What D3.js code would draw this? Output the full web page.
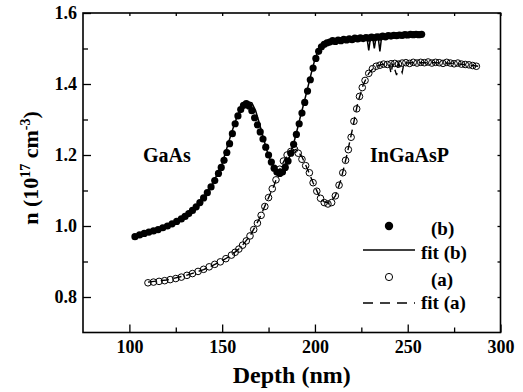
<!DOCTYPE html>
<html>
<head>
<meta charset="utf-8">
<script src="https://cdn.jsdelivr.net/npm/d3@7"></script>
<style>
  body { margin: 0; background: #fff; }
  svg { display: block; }
  text { font-family: "Liberation Serif", "Times New Roman", serif; font-weight: bold; fill: #000; }
</style>
</head>
<body>
<svg id="chart" width="523" height="392"></svg>
<script>
// measured data, (b) filled circles
const depthB = [103, 105.5, 108, 110.5, 113, 115.5, 118, 120.5, 123, 125.5, 128, 130, 132, 134, 136, 138, 140, 142, 144, 146,
  148, 149.5, 151, 152.5, 154, 155.5, 157, 158.5, 160, 161.5, 163, 164.5, 166, 167.5, 169, 170.5, 172, 173.5, 175, 176.5,
  178, 179.5, 181, 182.5, 184, 185.5, 187, 188.5, 190, 191.5, 193, 194.5, 196, 197.5, 199, 200.5, 202, 203.5, 205, 206.5,
  208, 209.5, 211, 212.5, 214, 215.5, 217, 218.5, 220, 221.5, 223, 224.5, 226, 227.5, 229, 230.5, 232, 233.5, 235, 236.5,
  238, 239.5, 241, 242.5, 244, 245.5, 247, 248.5, 250, 251.5, 253, 254.5, 256, 257.5]
const nB = [0.970, 0.975, 0.979, 0.983, 0.986, 0.990, 0.995, 1.000, 1.006, 1.013, 1.020, 1.027, 1.035, 1.044, 1.054, 1.066, 1.079, 1.094, 1.110, 1.128,
  1.148, 1.165, 1.185, 1.207, 1.232, 1.260, 1.288, 1.310, 1.328, 1.340, 1.345, 1.338, 1.325, 1.305, 1.285, 1.265, 1.245, 1.222, 1.200, 1.180,
  1.163, 1.152, 1.148, 1.152, 1.165, 1.183, 1.205, 1.230, 1.258, 1.288, 1.318, 1.348, 1.380, 1.412, 1.445, 1.472, 1.492, 1.505, 1.512, 1.516,
  1.518, 1.522, 1.520, 1.524, 1.522, 1.526, 1.524, 1.527, 1.525, 1.529, 1.527, 1.530, 1.528, 1.531, 1.529, 1.532, 1.530, 1.533, 1.532, 1.535,
  1.533, 1.536, 1.535, 1.537, 1.536, 1.538, 1.537, 1.539, 1.538, 1.540, 1.539, 1.540, 1.539, 1.540]

// fit (b)
const fitDepthB = [105, 110, 115, 120, 125, 130, 135, 140, 145, 150, 155, 158, 160, 162, 164, 166, 168, 170, 172, 174,
  176, 178, 180, 182, 184, 186, 188, 190, 192, 194, 196, 198, 200, 202, 204, 206, 210, 215, 220, 225,
  228, 229, 230, 231, 232, 233, 234, 235, 236, 240, 245, 250, 255, 258]
const fitNB = [0.975, 0.983, 0.990, 1.000, 1.012, 1.027, 1.048, 1.078, 1.120, 1.176, 1.262, 1.308, 1.330, 1.345, 1.350, 1.347, 1.325, 1.290, 1.252, 1.214,
  1.185, 1.162, 1.148, 1.146, 1.162, 1.190, 1.222, 1.262, 1.305, 1.345, 1.387, 1.430, 1.470, 1.497, 1.510, 1.518, 1.522, 1.526, 1.530, 1.532,
  1.532, 1.495, 1.533, 1.534, 1.500, 1.534, 1.535, 1.492, 1.536, 1.537, 1.538, 1.540, 1.541, 1.541]

// measured data, (a) open circles
const depthA = [110, 113, 116, 119, 122, 125, 128, 131, 134, 137, 140, 143, 146, 149, 152, 155, 157, 159, 161, 163,
  165, 167, 169, 171, 173, 175, 177, 179, 181, 183, 185, 187, 189, 191, 193, 195, 197, 199, 201, 203,
  205, 207, 209, 211, 213, 215, 216.5, 218, 219.5, 221, 222.5, 224, 225.5, 227, 229, 231, 233, 235, 237, 239,
  241, 243, 245, 247, 249, 251, 253, 255, 257, 259, 261, 263, 265, 267, 269, 271, 273, 275, 277, 279,
  281, 283, 285, 287]
const nA = [0.840, 0.842, 0.844, 0.846, 0.849, 0.852, 0.856, 0.861, 0.866, 0.872, 0.878, 0.885, 0.892, 0.899, 0.908, 0.918, 0.926, 0.935, 0.946, 0.958,
  0.972, 0.990, 1.008, 1.030, 1.055, 1.080, 1.105, 1.130, 1.160, 1.183, 1.200, 1.210, 1.216, 1.205, 1.188, 1.170, 1.150, 1.122, 1.098, 1.078,
  1.066, 1.062, 1.066, 1.085, 1.115, 1.150, 1.185, 1.215, 1.250, 1.295, 1.330, 1.365, 1.390, 1.410, 1.430, 1.443, 1.450, 1.453, 1.456, 1.455,
  1.457, 1.458, 1.456, 1.459, 1.460, 1.458, 1.461, 1.459, 1.461, 1.460, 1.462, 1.459, 1.461, 1.460, 1.458, 1.461, 1.459, 1.457, 1.459, 1.456,
  1.455, 1.454, 1.452, 1.450]

// fit (a)
const fitDepthA = [110, 120, 130, 140, 145, 150, 155, 160, 165, 170, 175, 178, 181, 184, 187, 190, 193, 196, 199, 202,
  205, 208, 211, 214, 217, 220, 223, 226, 229, 232, 236, 240, 241, 242, 244, 245, 247, 248, 255, 265,
  275, 285, 288]
const fitNA = [0.842, 0.848, 0.860, 0.877, 0.889, 0.902, 0.918, 0.940, 0.972, 1.020, 1.080, 1.115, 1.160, 1.190, 1.210, 1.216, 1.195, 1.160, 1.122, 1.088,
  1.068, 1.064, 1.085, 1.130, 1.195, 1.268, 1.345, 1.398, 1.430, 1.447, 1.455, 1.457, 1.430, 1.458, 1.425, 1.458, 1.432, 1.459, 1.460, 1.460,
  1.458, 1.452, 1.450]

const xTicks = [100, 150, 200, 250, 300]
const xMinor = [125, 175, 225, 275]
const yTicks = [0.8, 1.0, 1.2, 1.4, 1.6]
const yMinor = [0.9, 1.1, 1.3, 1.5]

const legendItems = [
  { label: '(b)', kind: 'dot' },
  { label: 'fit (b)', kind: 'line' },
  { label: '(a)', kind: 'circle' },
  { label: 'fit (a)', kind: 'dash' }
]

const svg = d3.select('#chart')
const m = { left: 83, right: 500.5, top: 13, bottom: 332.5 }

const x = d3.scaleLinear().domain([75, 300]).range([m.left, m.right])
const y = d3.scaleLinear().domain([0.7, 1.6]).range([m.bottom, m.top])

// frame
svg.append('rect')
  .attr('x', m.left).attr('y', m.top)
  .attr('width', m.right - m.left).attr('height', m.bottom - m.top)
  .attr('fill', 'none').attr('stroke', '#000').attr('stroke-width', 1.6)

function styleAxis(g) {
  g.select('.domain').remove()
  g.selectAll('line').attr('stroke', '#000').attr('stroke-width', 1.3)
  g.selectAll('text').style('font-size', '18px').style('font-family', '"Liberation Serif", serif').style('font-weight', 'bold')
}

// bottom axis
svg.append('g').attr('transform', `translate(0,${m.bottom})`)
  .call(d3.axisBottom(x).tickValues(xTicks).tickSize(-8).tickPadding(8).tickFormat(d3.format('d')))
  .call(styleAxis)
svg.append('g').attr('transform', `translate(0,${m.bottom})`)
  .call(d3.axisBottom(x).tickValues(xMinor).tickSize(-5).tickFormat(''))
  .call(styleAxis)
// top axis
svg.append('g').attr('transform', `translate(0,${m.top})`)
  .call(d3.axisTop(x).tickValues(xTicks.concat(xMinor)).tickSize(-3).tickFormat(''))
  .call(styleAxis)

// left axis
svg.append('g').attr('transform', `translate(${m.left},0)`)
  .call(d3.axisLeft(y).tickValues(yTicks).tickSize(-8).tickPadding(6).tickFormat(d3.format('.1f')))
  .call(styleAxis)
svg.append('g').attr('transform', `translate(${m.left},0)`)
  .call(d3.axisLeft(y).tickValues(yMinor).tickSize(-5).tickFormat(''))
  .call(styleAxis)
// right axis
svg.append('g').attr('transform', `translate(${m.right},0)`)
  .call(d3.axisRight(y).tickValues(yTicks.concat(yMinor)).tickSize(-3).tickFormat(''))
  .call(styleAxis)

// axis titles
svg.append('text')
  .attr('x', (m.left + m.right) / 2).attr('y', 383)
  .attr('text-anchor', 'middle')
  .style('font-size', '24px')
  .text('Depth (nm)')

const yTitle = svg.append('text')
  .attr('transform', 'translate(38,168) rotate(-90)')
  .attr('text-anchor', 'middle')
  .style('font-size', '22px')
yTitle.append('tspan').text('n (10')
yTitle.append('tspan').attr('dy', -8).style('font-size', '14px').text('17')
yTitle.append('tspan').attr('dy', 8).text(' cm')
yTitle.append('tspan').attr('dy', -8).style('font-size', '14px').text('-3')
yTitle.append('tspan').attr('dy', 8).text(')')

// series
const line = d3.line().x(d => x(d[0])).y(d => y(d[1]))
const fitA = d3.zip(fitDepthA, fitNA)
const fitB = d3.zip(fitDepthB, fitNB)
const ptsA = d3.zip(depthA, nA)
const ptsB = d3.zip(depthB, nB)

svg.append('path').datum(fitA)
  .attr('d', line).attr('fill', 'none')
  .attr('stroke', '#000').attr('stroke-width', 1.4).attr('stroke-dasharray', '8,5')

svg.append('g').selectAll('circle').data(ptsA).enter().append('circle')
  .attr('cx', d => x(d[0])).attr('cy', d => y(d[1])).attr('r', 3.3)
  .attr('fill', 'none').attr('stroke', '#000').attr('stroke-width', 1)

svg.append('g').selectAll('circle').data(ptsB).enter().append('circle')
  .attr('cx', d => x(d[0])).attr('cy', d => y(d[1])).attr('r', 3.6)
  .attr('fill', '#000')

svg.append('path').datum(fitB)
  .attr('d', line).attr('fill', 'none')
  .attr('stroke', '#000').attr('stroke-width', 1.5)

// region labels
svg.append('text').attr('x', 143).attr('y', 161.5).style('font-size', '20px').text('GaAs')
svg.append('text').attr('x', 370).attr('y', 161.5).style('font-size', '20px').text('InGaAsP')

// legend
const rowY = [226, 250, 277, 303]
const textY = [235, 259, 286, 309]
const lg = svg.append('g')
legendItems.forEach((it, i) => {
  if (it.kind === 'dot') {
    lg.append('circle').attr('cx', 389).attr('cy', rowY[i]).attr('r', 4.2).attr('fill', '#000')
  } else if (it.kind === 'circle') {
    lg.append('circle').attr('cx', 389).attr('cy', rowY[i]).attr('r', 3.6)
      .attr('fill', 'none').attr('stroke', '#000').attr('stroke-width', 1)
  } else {
    lg.append('line').attr('x1', 363).attr('x2', 415).attr('y1', rowY[i]).attr('y2', rowY[i])
      .attr('stroke', '#000').attr('stroke-width', 1.5)
      .attr('stroke-dasharray', it.kind === 'dash' ? '10,7' : null)
  }
  lg.append('text').attr('x', it.kind === 'dot' || it.kind === 'circle' ? 431 : 421)
    .attr('y', textY[i]).style('font-size', '19px').text(it.label)
})
</script>
</body>
</html>
